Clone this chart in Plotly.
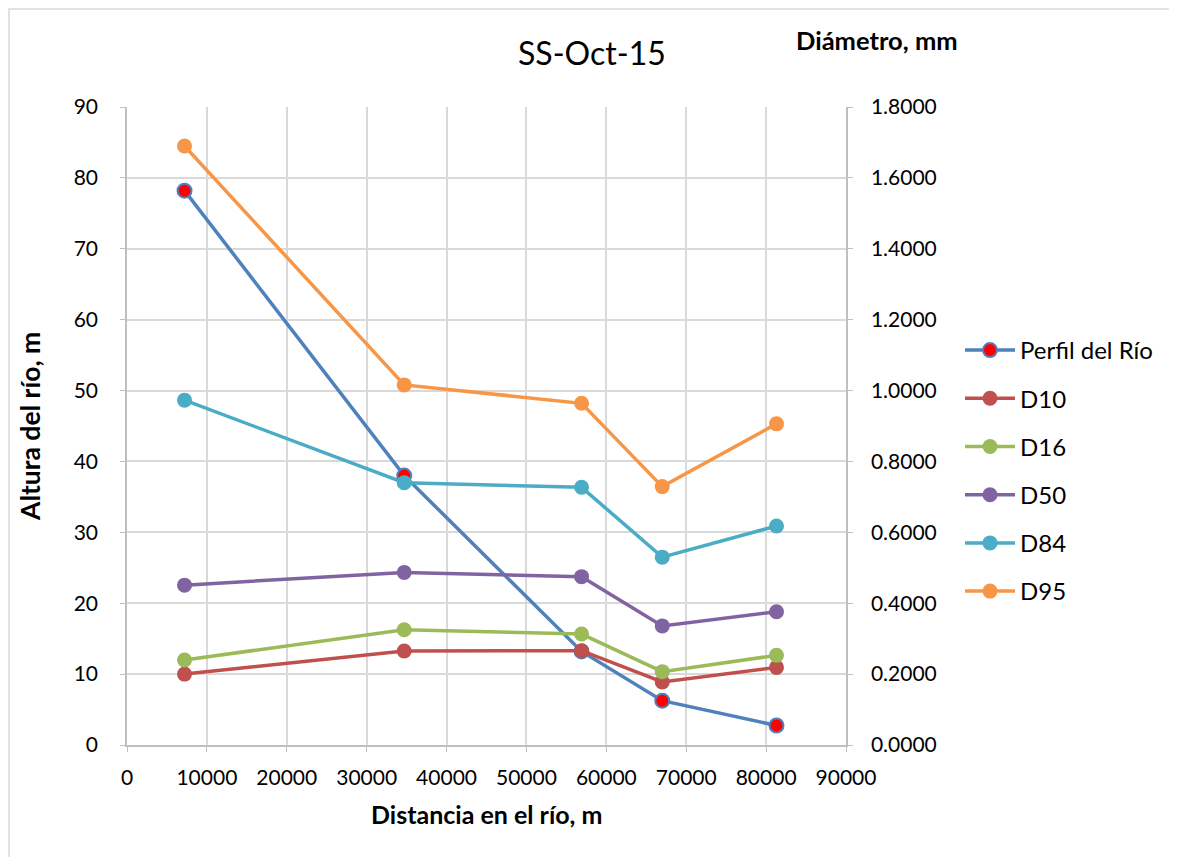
import plotly.graph_objects as go

# distances along the river (m)
distancia = [7200, 34700, 56900, 67000, 81300]

# river profile (m, left axis)
perfil = [78.2, 38.0, 13.2, 6.25, 2.75]

# grain diameters (mm, right axis)
d10 = [0.200, 0.265, 0.266, 0.178, 0.219]
d16 = [0.240, 0.325, 0.313, 0.207, 0.253]
d50 = [0.451, 0.487, 0.475, 0.336, 0.376]
d84 = [0.973, 0.740, 0.727, 0.530, 0.618]
d95 = [1.690, 1.016, 0.964, 0.729, 0.906]

diam_series = [
    ("D10", d10, "#C0504D"),
    ("D16", d16, "#9BBB59"),
    ("D50", d50, "#8064A2"),
    ("D84", d84, "#4BACC6"),
    ("D95", d95, "#F79646"),
]

FONT = "Lato, 'Open Sans', sans-serif"

# the page body adds 8px, so the figure is 8px smaller and shifted back
W, H = 1169, 849
L, T = 119, 99
PW, PH = 719, 638


def px(x):
    # page pixel -> paper x
    return (x - 8 - L) / PW


def py(y):
    # page pixel -> paper y
    return (T + PH - (y - 8)) / PH


fig = go.Figure()

fig.add_trace(
    go.Scatter(
        x=distancia,
        y=perfil,
        mode="lines+markers",
        name="Perfil del Río",
        legendgroup="perfil",
        line=dict(color="#4F81BD", width=3.5),
        marker=dict(color="#FF0000", size=14, line=dict(color="#4F81BD", width=2)),
    )
)

for name, vals, color in diam_series:
    fig.add_trace(
        go.Scatter(
            x=distancia,
            y=vals,
            yaxis="y2",
            mode="lines+markers",
            name=name,
            legendgroup=name,
            line=dict(color=color, width=3.5),
            marker=dict(color=color, size=15),
        )
    )

grid = "#D9D9D9"
axis_line = "#BFBFBF"

fig.update_layout(
    width=W,
    height=H,
    paper_bgcolor="white",
    plot_bgcolor="white",
    font=dict(family=FONT, size=21, color="#000000"),
    margin=dict(l=L, r=W - L - PW, t=T, b=H - T - PH),
    showlegend=True,
    legend=dict(
        x=px(960),
        xanchor="left",
        y=py(471),
        yanchor="middle",
        font=dict(size=24),
        tracegroupgap=14,
        itemwidth=50,
    ),
    xaxis=dict(
        range=[0, 90000],
        dtick=10000,
        tick0=0,
        tickformat="d",
        showgrid=True,
        gridcolor=grid,
        gridwidth=1.5,
        showline=True,
        linecolor=axis_line,
        linewidth=1.5,
        ticks="outside",
        tickcolor=axis_line,
        ticklen=5,
        ticklabelstandoff=8,
        zeroline=False,
    ),
    yaxis=dict(
        range=[0, 90],
        dtick=10,
        showgrid=True,
        gridcolor=grid,
        gridwidth=1.5,
        showline=True,
        linecolor=axis_line,
        linewidth=1.5,
        ticks="outside",
        tickcolor=axis_line,
        ticklen=5,
        ticklabelstandoff=18,
        zeroline=False,
    ),
    yaxis2=dict(
        range=[0, 1.8],
        dtick=0.2,
        tickformat=".4f",
        overlaying="y",
        side="right",
        showgrid=False,
        showline=True,
        linecolor=axis_line,
        linewidth=1.5,
        ticks="outside",
        tickcolor=axis_line,
        ticklen=5,
        ticklabelstandoff=14,
        zeroline=False,
    ),
)

# chart title and axis titles, placed as Excel puts them
titles = [
    ("SS-Oct-15", 592, 53, 32, 0),
    ("<b>Diámetro, mm</b>", 877, 40, 25.5, 0),
    ("<b>Distancia en el río, m</b>", 486, 814, 25, 0),
    ("<b>Altura del río, m</b>", 30, 427, 26.5, -90),
]
for text, x, y, size, angle in titles:
    fig.add_annotation(
        text=text,
        xref="paper", yref="paper",
        x=px(x), y=py(y),
        xanchor="center", yanchor="middle",
        showarrow=False,
        textangle=angle,
        font=dict(size=size),
    )

# light frame round the whole chart
fig.add_shape(
    type="rect",
    xref="paper", yref="paper",
    x0=px(9), x1=px(1170),
    y0=py(870), y1=py(9),
    line=dict(color="#D9D9D9", width=1.5),
    layer="below",
)

fig.write_html("out.html")
